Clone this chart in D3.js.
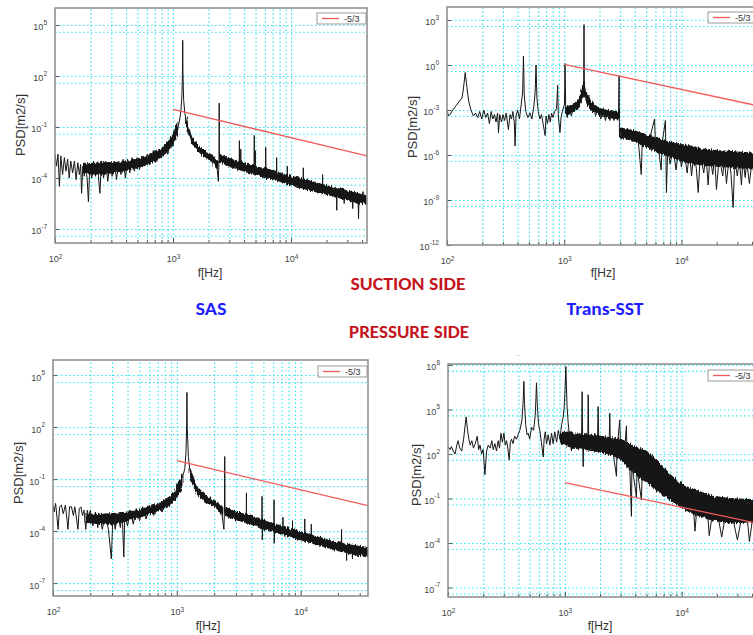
<!DOCTYPE html>
<html>
<head>
<meta charset="utf-8">
<script src="https://cdn.jsdelivr.net/npm/d3@7"></script>
<style>
  body { margin: 0; background: #fff; }
  svg { display: block; font-family: "Liberation Sans", Arial, sans-serif; }
  .grid .domain { display: none; }
  .grid line { stroke: #2fe2f0; stroke-width: 1.1; stroke-dasharray: 1.5 2.5; }
  .ax .domain { display: none; }
  .ax line { stroke: #555; }
  .ax text { fill: #444; }
</style>
</head>
<body>
<svg width="753" height="635"></svg>
<script>
// ---- data: [frequency Hz, log10 PSD] ----
const sasSuctionLine = [
  [100,-2.6],[103,-3.3],[106,-2.6],[109,-4.5],[112,-2.7],[116,-3.8],[120,-2.8],[124,-3.6],[128,-2.9],[132,-4.0],
  [136,-3.0],[141,-3.7],[146,-3.0],[151,-4.1],[156,-3.1],[161,-3.8],[165,-3.2],[168,-4.9],[172,-3.3],[177,-3.9],
  [182,-3.3],[187,-4.0],[192,-5.4],[197,-3.4],[205,-4.0],[212,-3.0],[220,-3.9],[228,-3.1],[240,-4.9],[248,-3.0],
  [258,-4.0],[268,-3.0],[280,-4.2],[292,-3.1],[305,-3.9],[318,-3.0],[332,-4.1],[346,-3.0],[362,-3.8],[378,-2.9],
  [395,-4.0],[412,-2.9],[430,-3.7],[450,-2.8],[470,-3.6],[495,-2.8],[520,-3.5],[545,-2.7],[575,-3.3],[605,-2.6],
  [640,-3.2],[680,-2.4],[720,-3.0],[760,-2.3],[800,-2.8],[850,-2.0],[900,-2.6],[950,-1.7],[1000,-2.1],[1040,-1.4],
  [1080,-1.2],[1130,-0.7],[1165,-0.1],[1190,0.9],[1202,2.3],[1208,4.1],[1214,2.2],
  [1230,0.6],[1260,-0.2],[1300,-0.7],[1390,-1.5],[1530,-2.1],[1700,-2.4],[1930,-2.7],[2200,-2.9],[2350,-3.2],[2420,-4.2],
  [2450,-3.0],[2462,0.4],[2475,-2.8],[2700,-3.0],[3000,-3.1],[3400,-3.3],[3635,-3.4],[3650,-1.8],[3665,-3.4],[3735,-3.4],
  [3750,-2.3],[3765,-3.5],[4400,-3.6],[4860,-3.6],[4880,-1.5],[4900,-3.7],[4965,-3.7],[4980,-2.4],[4995,-3.7],[6070,-3.9],
  [6100,-2.2],[6130,-3.9],[7510,-4.1],[7550,-2.8],[7590,-4.1],[9260,-4.2],[9300,-3.3],[9340,-4.3],[12640,-4.4],[12700,-3.4],
  [12760,-4.4],[18400,-4.7],[18500,-3.8],[18600,-4.7],[24300,-4.9],[24400,-5.9],[24500,-4.9],[28000,-5.0],[28200,-5.5],[28400,-5.0],
  [33000,-5.1],[33300,-5.8],[33600,-5.1],[37000,-5.2],[37300,-6.4],[37600,-5.2],[40500,-5.3],[40700,-4.8],[40900,-5.3],[44000,-5.3]
];
// dense noisy part: [frequency, low, high] (log10 PSD), null = gap
const sasSuctionBand = [
  [175,-3.7,-3.2],[200,-3.75,-3.15],[250,-3.8,-3.1],[300,-3.7,-3.1],[400,-3.55,-3.05],[500,-3.4,-2.9],[600,-3.2,-2.75],
  [700,-3.0,-2.5],[800,-2.75,-2.25],[880,-2.5,-2.0],[1000,-2.0,-1.45],[1100,-1.3,-0.7],null,
  [1280,-0.9,-0.4],[1400,-1.75,-1.35],[1550,-2.25,-1.9],[1700,-2.55,-2.2],[1950,-2.85,-2.5],[2200,-3.05,-2.7],[2380,-3.5,-3.0],null,
  [2480,-3.05,-2.6],[3000,-3.3,-2.85],[3800,-3.55,-3.1],[4500,-3.7,-3.25],[5500,-3.9,-3.4],[7000,-4.05,-3.55],[8500,-4.25,-3.75],
  [10000,-4.4,-3.9],[12500,-4.6,-4.05],[15000,-4.75,-4.2],[20000,-4.95,-4.45],[25000,-5.15,-4.6],[30000,-5.3,-4.75],[36000,-5.45,-4.9],[44000,-5.55,-5.05]
];
const sasSuctionRefFreq = [1000, 44000];
const sasSuctionRefPsd = [1.1, 2.0e-3];

const sstSuctionLine = [
  [100,-3.0],[103,-3.4],[106,-3.3],[112,-3.0],[120,-2.7],[128,-2.4],[134,-2.2],[138,-1.6],[143,-0.5],[148,-1.5],
  [153,-2.4],[160,-3.0],[168,-3.4],[175,-3.2],[183,-3.5],[190,-3.1],[198,-3.6],[206,-3.0],[214,-3.5],[222,-3.2],
  [230,-3.9],[238,-3.1],[246,-3.6],[254,-3.3],[262,-3.8],[270,-3.2],[275,-4.5],[282,-3.3],[292,-3.8],[300,-3.3],
  [310,-3.7],[320,-3.2],[334,-4.3],[345,-3.3],[355,-3.6],[365,-3.1],[375,-3.8],[381,-5.4],[388,-3.4],[400,-3.0],
  [415,-3.6],[430,-2.6],[442,-1.8],[449,0.6],[456,-2.0],[470,-3.1],[490,-3.5],[510,-3.2],[530,-3.6],[550,-2.8],
  [565,-1.8],[575,0.0],[585,-2.2],[600,-3.1],[620,-3.6],[640,-3.3],[660,-3.9],[687,-4.7],[700,-3.4],[720,-3.9],
  [740,-3.3],[760,-3.8],[780,-3.2],[800,-3.5],[830,-3.1],[860,-2.9],[879,-1.35],[890,-3.4],[920,-4.5],[940,-3.5],
  [970,-3.0],[990,-2.8],[1005,-2.6],[1016,0.1],[1030,-2.9],[1060,-3.5],[1100,-2.7],[1150,-3.4],[1200,-2.8],[1250,-2.5],
  [1300,-3.0],[1350,-2.2],[1400,-2.0],[1440,-1.6],[1465,-1.2],[1475,2.7],[1485,-1.3],[1520,-1.9],[1570,-2.6],[1620,-2.0],
  [1680,-3.0],[1770,-2.5],[1850,-3.4],[1950,-2.8],[2050,-3.6],[2150,-3.0],[2250,-3.7],[2350,-3.0],[2450,-3.7],[2550,-3.0],
  [2650,-3.7],[2780,-3.1],[2900,-3.6],[2940,-0.7],[2960,-4.8],[3000,-4.3],[3100,-4.9],[3250,-4.3],[3400,-5.0],[3600,-4.4],
  [3800,-5.1],[4000,-4.5],[4300,-5.2],[4540,-7.3],[4650,-4.7],[5000,-5.3],[5400,-4.8],[5900,-3.6],[6000,-5.2],[6400,-5.7],
  [6710,-7.0],[6850,-5.2],[7300,-3.7],[7450,-8.5],[7650,-5.4],[8000,-6.6],[8500,-5.6],[9000,-7.0],[9500,-5.5],[10000,-6.8],
  [10500,-5.6],[11200,-7.2],[11700,-5.7],[12200,-7.4],[12800,-5.8],[13400,-6.9],[13900,-8.5],[14500,-5.9],[15500,-7.2],[16200,-6.0],
  [16900,-8.0],[17500,-6.0],[18500,-7.3],[19200,-6.1],[19900,-8.3],[21000,-6.1],[22500,-7.4],[23300,-6.2],[24200,-7.9],[25500,-6.2],
  [26500,-7.3],[27600,-9.5],[28500,-6.3],[30000,-7.4],[31200,-6.3],[32500,-8.0],[33500,-6.3],[35000,-7.5],[36000,-6.4],[38000,-7.9],
  [40000,-6.4],[42000,-7.6],[45000,-6.5]
];
const sstSuctionBand = [
  [1050,-3.3,-2.8],[1200,-3.1,-2.65],[1300,-2.9,-2.35],[1400,-2.5,-1.9],[1480,-2.0,-1.1],[1560,-2.5,-1.9],[1700,-3.0,-2.5],
  [2000,-3.35,-2.9],[2400,-3.5,-3.05],[2900,-3.6,-3.1],null,
  [3000,-4.8,-4.2],[3500,-4.95,-4.3],[4000,-5.1,-4.4],[5000,-5.45,-4.65],[6000,-5.75,-4.85],[7000,-5.95,-5.05],[8500,-6.2,-5.2],
  [10000,-6.4,-5.3],[12000,-6.55,-5.4],[15000,-6.65,-5.6],[20000,-6.75,-5.7],[30000,-6.85,-5.8],[45000,-6.95,-5.9]
];
const sstSuctionRefFreq = [1000, 45000];
const sstSuctionRefPsd = [1.12, 1.9e-3];

const sasPressureLine = [
  [100,-2.5],[102,-2.9],[105,-2.4],[108,-3.3],[110,-3.9],[113,-2.6],[117,-2.5],[121,-3.0],[126,-2.5],[130,-3.4],
  [132,-3.9],[136,-2.6],[141,-2.6],[146,-3.1],[150,-2.6],[155,-3.3],[159,-3.9],[163,-2.7],[168,-2.6],[173,-3.1],
  [178,-2.8],[184,-3.9],[189,-2.8],[195,-3.2],[200,-2.8],[210,-3.7],[220,-2.9],[230,-3.8],[238,-3.0],[250,-3.9],
  [265,-3.0],[280,-3.9],[296,-5.6],[305,-3.0],[318,-3.9],[333,-3.0],[350,-3.8],[362,-2.9],[373,-5.5],[380,-3.0],
  [400,-3.7],[420,-2.8],[445,-3.6],[470,-2.7],[500,-3.4],[530,-2.6],[565,-3.3],[600,-2.5],[650,-3.1],[700,-2.4],
  [760,-2.9],[820,-2.1],[870,-2.6],[920,-1.8],[990,-2.0],[1040,-1.3],
  [1090,-1.0],[1120,-0.8],[1160,-0.4],[1185,0.5],
  [1200,2.0],[1207,4.0],[1214,2.0],[1240,0.3],[1270,-0.4],[1312,-1.0],[1440,-1.6],[1734,-2.2],[2090,-2.5],[2290,-2.8],
  [2400,-3.9],[2425,-2.9],[2438,0.3],[2450,-2.9],[2673,-3.0],[3000,-3.2],[3500,-3.4],[3640,-3.4],[3650,-1.8],[3660,-3.5],
  [4000,-3.6],[4860,-3.7],[4880,-2.0],[4900,-4.5],[4930,-3.8],[6080,-3.9],[6100,-2.2],[6120,-4.7],[6150,-4.0],[7180,-4.1],
  [7200,-3.2],[7220,-4.1],[8580,-4.2],[8600,-3.4],[8620,-4.3],[10780,-4.4],[10800,-3.3],[10820,-4.4],[12180,-4.5],[12200,-3.6],
  [12220,-4.5],[15000,-4.6],[18000,-4.8],[21300,-4.9],[21400,-3.9],[21500,-4.9],[23400,-5.0],[23500,-5.7],[23600,-5.0],[26000,-5.0],
  [26200,-5.6],[26400,-5.0],[29000,-5.1],[29200,-5.5],[29400,-5.1],[32000,-5.2],[35000,-5.3]
];
const sasPressureBand = [
  [185,-3.5,-3.0],[220,-3.55,-3.05],[300,-3.6,-3.0],[400,-3.4,-2.9],[500,-3.2,-2.8],[600,-3.0,-2.6],[700,-2.85,-2.45],
  [824,-2.6,-2.15],[920,-2.35,-1.9],[993,-2.1,-1.5],[1100,-1.4,-0.7],null,
  [1280,-0.9,-0.4],[1440,-1.85,-1.4],[1734,-2.35,-2.0],[2090,-2.65,-2.3],[2350,-3.1,-2.6],null,
  [2480,-3.1,-2.65],[3000,-3.35,-2.9],[3645,-3.5,-3.05],[4500,-3.75,-3.25],[5290,-3.9,-3.45],[7000,-4.15,-3.7],[10000,-4.5,-4.05],
  [14000,-4.8,-4.35],[18300,-5.05,-4.6],[25000,-5.3,-4.8],[35000,-5.5,-4.95]
];
const sasPressureRefFreq = [1000, 35000];
const sasPressureRefPsd = [1.15, 2.9e-3];

const sstPressureLine = [
  [100,2.5],[104,2.3],[107,2.5],[111,2.2],[115,2.0],[119,2.6],[122,2.9],[126,2.4],[131,2.2],[136,3.0],
  [140,3.9],[143,4.5],[147,3.6],[151,3.0],[155,2.6],[160,2.9],[165,2.4],[171,2.7],[178,3.2],[183,2.3],
  [188,2.6],[194,2.0],[200,2.3],[207,0.6],[214,2.2],[221,2.6],[230,2.4],[237,2.9],[244,2.3],[252,2.7],
  [260,2.2],[269,2.9],[276,2.4],[284,3.4],[292,2.8],[301,3.4],[309,2.6],[317,2.9],[325,2.4],[334,1.6],
  [342,2.8],[350,3.0],[360,2.7],[372,3.2],[386,3.0],[398,3.3],[412,3.6],[430,4.3],[440,5.6],[446,6.9],
  [452,5.4],[462,4.0],[475,3.3],[486,3.4],[500,3.0],[519,3.8],[540,3.6],[558,4.6],[566,5.8],[572,6.8],
  [580,5.5],[595,4.0],[611,3.6],[630,2.8],[653,1.8],[665,3.0],[680,3.5],[697,2.7],[720,3.3],[745,2.6],
  [770,3.4],[794,2.7],[820,3.5],[850,2.8],[880,3.6],[906,3.0],[940,4.0],[968,4.5],[990,5.3],[1005,6.4],
  [1020,7.9],[1032,6.6],[1045,5.2],[1068,4.1],[1100,3.0],[1140,2.2],[1178,3.3],[1250,2.6],[1343,3.4],[1390,3.0],
  [1406,6.2],[1420,3.0],[1435,1.15],[1450,2.8],[1520,3.4],[1570,2.7],[1584,6.0],[1600,3.2],[1700,2.4],[1800,3.4],
  [1900,2.6],[1927,5.2],[1950,2.9],[2050,2.3],[2150,3.2],[2300,2.2],[2400,3.1],[2425,4.75],[2450,2.6],[2600,2.0],
  [2766,0.5],[2800,2.3],[2950,4.3],[3000,2.3],[3200,1.7],[3367,3.9],[3400,1.8],[3600,1.0],[3715,-2.2],[3750,1.3],
  [4100,-0.9],[4150,1.0],[4522,-1.1],[4600,0.9],[5000,1.2],[5300,0.3],[5600,1.0],[6000,0.2],[6400,0.8],[6900,-0.2],
  [7500,0.2],[8000,-0.6],[8700,-0.2],[9600,-0.8],[10500,-0.6],[11500,-1.2],[12400,-0.8],[13000,-3.2],[13600,-1.3],[15000,-1.6],
  [16500,-1.4],[17200,-3.5],[18500,-1.8],[20000,-1.7],[22000,-3.6],[24000,-1.9],[26500,-1.8],[30000,-3.8],[33000,-2.0],[36000,-1.9],
  [38000,-3.9],[41000,-2.0],[45000,-2.0]
];
const sstPressureBand = [
  [920,2.7,3.4],[1050,2.55,3.55],[1200,2.4,3.35],[1500,2.3,3.3],[2000,2.15,3.2],[2500,1.95,3.1],[3000,1.65,3.0],
  [3500,1.05,2.75],[4000,0.65,2.45],[5000,0.1,2.2],[6000,-0.4,1.6],[7000,-0.8,1.1],[8000,-1.1,0.6],[9600,-1.5,0.05],
  [11000,-1.8,-0.2],[13300,-2.1,-0.45],[18500,-2.45,-0.85],[25700,-2.65,-1.0],[45000,-2.55,-1.1]
];
const sstPressureRefFreq = [1000, 45000];
const sstPressureRefPsd = [1.19, 2.1e-3];

// tick labels
const xTicks = [1e2, 1e3, 1e4];
const sasYTicks = [1e5, 1e2, 1e-1, 1e-4, 1e-7];
const sstSuctionYTicks = [1e3, 1e0, 1e-3, 1e-6, 1e-9, 1e-12];
const sstPressureYTicks = [1e8, 1e5, 1e2, 1e-1, 1e-4, 1e-7];
const legendLabel = '-5/3';
const sideTitles = ['SUCTION SIDE', 'PRESSURE SIDE'];
const modelTitles = ['SAS', 'Trans-SST'];

// ---- layout ----
const svg = d3.select('svg');

// ragged edge for the dense noise bands
const rough = svg.append('defs').append('filter').attr('id', 'rough')
  .attr('x', '-5%').attr('y', '-20%').attr('width', '110%').attr('height', '140%');
rough.append('feTurbulence').attr('type', 'fractalNoise')
  .attr('baseFrequency', '0.8 0.08').attr('numOctaves', 2).attr('seed', 4).attr('result', 'n');
rough.append('feDisplacementMap').attr('in', 'SourceGraphic').attr('in2', 'n')
  .attr('scale', 5).attr('xChannelSelector', 'R').attr('yChannelSelector', 'G');

const panels = [
  { line: sasSuctionLine, band: sasSuctionBand, refF: sasSuctionRefFreq, refP: sasSuctionRefPsd, yTicks: sasYTicks,
    xMax: 44000, yDom: [1.5e-8, 1e6], left: 55, top: 8, w: 312, h: 235, ylab: [20, 125], flab: [210, 277] },
  { line: sstSuctionLine, band: sstSuctionBand, refF: sstSuctionRefFreq, refP: sstSuctionRefPsd, yTicks: sstSuctionYTicks,
    xMax: 45000, yDom: [1e-12, 7.4e3], left: 447, top: 7, w: 311, h: 238, ylab: [412, 127], flab: [603, 277] },
  { line: sasPressureLine, band: sasPressureBand, refF: sasPressureRefFreq, refP: sasPressureRefPsd, yTicks: sasYTicks,
    xMax: 35000, yDom: [1.8e-8, 7.4e5], left: 53, top: 360, w: 315, h: 236, ylab: [18, 473], flab: [208, 630] },
  { line: sstPressureLine, band: sstPressureBand, refF: sstPressureRefFreq, refP: sstPressureRefPsd, yTicks: sstPressureYTicks,
    xMax: 45000, yDom: [2.3e-8, 1.17e8], left: 448, top: 364, w: 310, h: 233, ylab: [416, 475], flab: [600, 630] }
];

// grid frequencies 1..9 x decade
const gridFreqs = [];
[100, 1000].forEach(dec => d3.range(1, 10).forEach(k => gridFreqs.push(k * dec)));
gridFreqs.push(10000);
const minorFreqs = [];
[100, 1000, 10000].forEach(dec => d3.range(2, 10).forEach(k => minorFreqs.push(k * dec)));

panels.forEach((p, i) => {
  const x = d3.scaleLog().domain([100, p.xMax]).range([0, p.w]);
  const y = d3.scaleLog().domain(p.yDom).range([p.h, 0]);
  const g = svg.append('g').attr('transform', `translate(${p.left},${p.top})`);

  const clipId = 'clip' + i;
  g.append('clipPath').attr('id', clipId)
    .append('rect').attr('width', p.w).attr('height', p.h);

  // dotted cyan grid
  g.append('g').attr('class', 'grid').attr('transform', `translate(0,${p.h})`)
    .call(d3.axisBottom(x).tickValues(gridFreqs.filter(f => f > 100)).tickSize(-p.h).tickFormat(''));
  const hGrid = p.yTicks.flatMap(t => [t, t * 0.4]).filter(v => v > p.yDom[0] && v < p.yDom[1]);
  g.append('g').attr('class', 'grid')
    .call(d3.axisLeft(y).tickValues(hGrid).tickSize(-p.w).tickFormat(''));

  const data = g.append('g').attr('clip-path', `url(#${clipId})`);

  // noisy band
  const area = d3.area()
    .defined(d => d !== null)
    .x(d => x(d[0]))
    .y0(d => y(Math.pow(10, d[1])))
    .y1(d => y(Math.pow(10, d[2])));
  data.append('path').datum(p.band)
    .attr('d', area)
    .attr('filter', 'url(#rough)')
    .attr('fill', '#121212')
    .attr('stroke', '#121212')
    .attr('stroke-width', 1);

  // spectrum line
  const line = d3.line().x(d => x(d[0])).y(d => y(Math.pow(10, d[1])));
  data.append('path').datum(p.line)
    .attr('d', line)
    .attr('fill', 'none')
    .attr('stroke', '#161616')
    .attr('stroke-width', 1);

  // -5/3 reference
  const ref = d3.zip(p.refF, p.refP);
  data.append('path').datum(ref)
    .attr('d', d3.line().x(d => x(d[0])).y(d => y(d[1])))
    .attr('fill', 'none')
    .attr('stroke', '#f25a5a')
    .attr('stroke-width', 1.3);

  // axes
  const xAx = g.append('g').attr('class', 'ax').attr('transform', `translate(0,${p.h})`)
    .call(d3.axisBottom(x).tickValues(xTicks).tickSizeInner(-5).tickSizeOuter(0).tickPadding(13).tickFormat(''))
    .attr('font-family', null).attr('font-size', 9);
  xAx.selectAll('.tick text').each(function(d) {
    const t = d3.select(this);
    t.append('tspan').text('10');
    t.append('tspan').attr('dy', '-0.55em').attr('font-size', 6.5).text(Math.round(Math.log10(d)));
  });
  g.append('g').attr('class', 'ax').attr('transform', `translate(0,${p.h})`)
    .call(d3.axisBottom(x).tickValues(minorFreqs.filter(f => f < p.xMax)).tickSizeInner(-3).tickSizeOuter(0).tickFormat(''));

  const yAx = g.append('g').attr('class', 'ax')
    .call(d3.axisLeft(y).tickValues(p.yTicks).tickSizeInner(-4).tickSizeOuter(0).tickPadding(8).tickFormat(''))
    .attr('font-family', null).attr('font-size', 9);
  yAx.selectAll('.tick text').attr('dy', '0.55em').each(function(d) {
    const t = d3.select(this);
    t.append('tspan').text('10');
    t.append('tspan').attr('dy', '-0.9em').attr('font-size', 6.5).text(Math.round(Math.log10(d)));
  });

  // frame
  g.append('rect').attr('width', p.w).attr('height', p.h)
    .attr('fill', 'none').attr('stroke', '#8a8a8a').attr('stroke-width', 1.5);

  // legend
  const lg = g.append('g').attr('transform', `translate(${p.w - 50},${i < 2 ? 5 : 6})`);
  lg.append('rect').attr('width', 49).attr('height', 11)
    .attr('fill', '#fff').attr('stroke', '#9a9a9a').attr('stroke-width', 1);
  lg.append('line').attr('x1', 5).attr('x2', 22).attr('y1', 5.5).attr('y2', 5.5)
    .attr('stroke', '#f25a5a').attr('stroke-width', 1.3);
  lg.append('text').attr('x', 27).attr('y', 9).attr('font-size', 9).attr('fill', '#333').text(legendLabel);

  // axis titles
  svg.append('text')
    .attr('transform', `translate(${p.ylab[0]},${p.ylab[1]}) rotate(-90)`)
    .attr('text-anchor', 'middle').attr('dy', '0.35em')
    .attr('font-size', 13).attr('fill', '#333').text('PSD[m2/s]');
  svg.append('text')
    .attr('x', p.flab[0]).attr('y', p.flab[1])
    .attr('text-anchor', 'middle')
    .attr('font-size', 12).attr('fill', '#333').text('f[Hz]');
});

// small stray mark above the lower-right plot
svg.append('text').attr('x', 518).attr('y', 357).attr('text-anchor', 'middle')
  .attr('font-size', 8).attr('fill', '#999').text('-');

// titles between the rows
const titleFont = 'Carlito, Lato, "Open Sans", sans-serif';
svg.append('text').attr('x', 408).attr('y', 290).attr('text-anchor', 'middle')
  .attr('font-family', titleFont).attr('font-weight', 700).attr('font-size', 17)
  .attr('textLength', 115).attr('lengthAdjust', 'spacingAndGlyphs')
  .attr('fill', '#c4141c').text(sideTitles[0]);
svg.append('text').attr('x', 409).attr('y', 338).attr('text-anchor', 'middle')
  .attr('font-family', titleFont).attr('font-weight', 700).attr('font-size', 17)
  .attr('textLength', 120).attr('lengthAdjust', 'spacingAndGlyphs')
  .attr('fill', '#c4141c').text(sideTitles[1]);
svg.append('text').attr('x', 211).attr('y', 315).attr('text-anchor', 'middle')
  .attr('font-family', titleFont).attr('font-weight', 700).attr('font-size', 17)
  .attr('textLength', 31).attr('lengthAdjust', 'spacingAndGlyphs')
  .attr('fill', '#1e1eff').text(modelTitles[0]);
svg.append('text').attr('x', 605).attr('y', 315).attr('text-anchor', 'middle')
  .attr('font-family', titleFont).attr('font-weight', 700).attr('font-size', 17)
  .attr('textLength', 77).attr('lengthAdjust', 'spacingAndGlyphs')
  .attr('fill', '#1e1eff').text(modelTitles[1]);
</script>
</body>
</html>
